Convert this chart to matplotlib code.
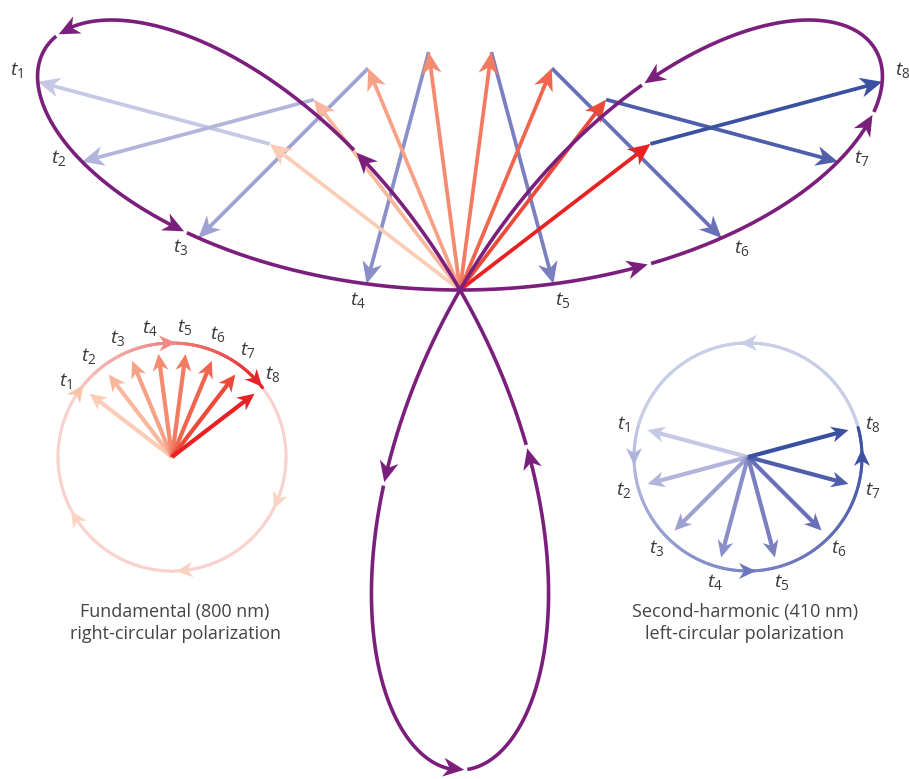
import numpy as np
import matplotlib.pyplot as plt
from matplotlib.patches import Polygon
from matplotlib.collections import LineCollection
from matplotlib.colors import to_rgb

plt.rcParams['mathtext.fontset'] = 'custom'
plt.rcParams['mathtext.it'] = 'Open Sans:italic'
plt.rcParams['mathtext.rm'] = 'Open Sans'

#%% data
time_labels = ['1', '2', '3', '4', '5', '6', '7', '8']
# field directions (deg) at t1..t8
fund_angle = [142.5, 127.5, 112.5, 97.5, 82.5, 67.5, 52.5, 37.5]
sh_angle = [165, 195, 225, 255, 285, 315, 345, 15]
fund_colors = ['#fbcdb6', '#f9b89e', '#f6a287', '#f48b71', '#f27a60',
               '#f0654d', '#ec4a38', '#e82123']
sh_colors = ['#c6c9e6', '#b1b5dc', '#9ea2d2', '#8b8fc9', '#7a7fc0',
             '#6870b7', '#4e5eab', '#3a50a0']
# phase (deg) of the direction arrows along the total-field path
path_arrow_phase = [15.5, 46, 96.5, 137, 181, 226, 254, 295, 336]
fund_circle_arrows = [145, 92, 42, -23, -84, -148]
fund_circle_colors = ['#f9c3aa', '#f08a88', '#e8232a', '#fbd3c2', '#fbd3c2', '#fbd3c2']
sh_circle_arrows = [90, 180, 270, 0]
sh_circle_colors = ['#c8cde8', '#adb4dc', '#6b76bc', '#3c51a2']
captions = ['Fundamental (800 nm)\nright-circular polarization',
            'Second-harmonic (410 nm)\nleft-circular polarization']

#%% layout (pixel units, y up)
W, H = 909, 779
C = np.array([460., 489.])
A = 240.
LC = np.array([172., 322.])
RC = np.array([748., 322.])
R_in = 114.
label_off = [(-21, 12), (-23, 4), (-18, -9), (-9, -16), (9, -16), (20, -10), (24, 4), (20, 12)]
purple = '#7b1f7c'
txt = '#3a3a3a'


def unit(deg):
    r = np.deg2rad(deg)
    return np.array([np.cos(r), np.sin(r)])


def head(ax, tip, d, L, Wd, color, z):
    d = np.asarray(d, float)
    d = d / np.linalg.norm(d)
    n = np.array([-d[1], d[0]])
    base = tip - L * d
    pts = [tip, base + Wd * n, tip - 0.7 * L * d, base - Wd * n]
    ax.add_patch(Polygon(pts, closed=True, fc=color, ec='none', zorder=z))


def arrow(ax, start, end, color, lw, L, Wd, z):
    start = np.asarray(start, float)
    end = np.asarray(end, float)
    u = (end - start) / np.linalg.norm(end - start)
    se = end - 0.6 * L * u
    ax.plot([start[0], se[0]], [start[1], se[1]], color=color, lw=lw,
            solid_capstyle='butt', zorder=z)
    head(ax, end, u, L, Wd, color, z + 0.1)


def field(s):
    s = np.atleast_1d(s)
    f = np.stack([np.cos(np.deg2rad(90 - s)), np.sin(np.deg2rad(90 - s))], axis=1)
    h = np.stack([np.cos(np.deg2rad(270 + 2 * s)), np.sin(np.deg2rad(270 + 2 * s))], axis=1)
    return C + A * (f + h)


def grad_arc(ax, center, r, a0, a1, colors, lw, z):
    # arc from a0 to a1 (deg) with colour interpolated along the list
    ang = np.linspace(a0, a1, 200)
    pts = center + r * np.stack([np.cos(np.deg2rad(ang)), np.sin(np.deg2rad(ang))], axis=1)
    segs = np.stack([pts[:-1], pts[1:]], axis=1)
    cols = np.array([to_rgb(c) for c in colors])
    x = np.linspace(0, 1, len(colors))
    tt = np.linspace(0, 1, len(segs))
    rgb = np.stack([np.interp(tt, x, cols[:, i]) for i in range(3)], axis=1)
    ax.add_collection(LineCollection(segs, colors=rgb, linewidths=lw,
                                     capstyle='round', zorder=z))


fig = plt.figure(figsize=(W / 100, H / 100), dpi=100)
ax = fig.add_axes([0, 0, 1, 1])
ax.set_xlim(0, W)
ax.set_ylim(0, H)
ax.set_aspect('equal')
ax.axis('off')

#%% main diagram: fundamental + second harmonic = trefoil
for k in range(8):
    ftip = C + A * unit(fund_angle[k])
    p = field(90 - fund_angle[k])[0]
    arrow(ax, ftip, p, sh_colors[k], 2.7, 22, 10, 1.5)
    arrow(ax, C, ftip, fund_colors[k], 2.7, 22, 10, 2)
    ax.text(p[0] + label_off[k][0], p[1] + label_off[k][1], r'$t_{%s}$' % time_labels[k],
            fontsize=14, color=txt, ha='center', va='center')

sg = np.arange(0, 360.001, 0.05)
pts = field(sg)
cum = np.concatenate([[0], np.cumsum(np.linalg.norm(np.diff(pts, axis=0), axis=1))])
L_head, gap = 21, 3
start_len = 0.
for s_a in sorted(path_arrow_phase):
    i = np.searchsorted(sg, s_a)
    la = cum[i]
    m = (cum >= start_len) & (cum <= la - 0.5 * L_head)
    ax.plot(pts[m, 0], pts[m, 1], color=purple, lw=2.6, solid_capstyle='butt', zorder=4)
    j = np.searchsorted(cum, la - L_head)
    head(ax, pts[i], pts[i] - pts[j], L_head, 9.5, purple, 4.1)
    start_len = la + gap
m = cum >= start_len
ax.plot(pts[m, 0], pts[m, 1], color=purple, lw=2.6, solid_capstyle='butt', zorder=4)

#%% inset: fundamental, right-circular
grad_arc(ax, LC, R_in, fund_angle[-1], fund_angle[0] - 360, ['#f9d2d0', '#f9d2d0'], 2.2, 1)
grad_arc(ax, LC, R_in, fund_angle[0], fund_angle[-1], ['#f7c6c2', '#f29c98', '#ee6662', '#e8232a'], 2.2, 1)
for a, c in zip(fund_circle_arrows, fund_circle_colors):
    pos = LC + R_in * unit(a)
    d = unit(a - 90)
    head(ax, pos + 8 * d, d, 17, 8, c, 1.2)
for k in range(8):
    arrow(ax, LC, LC + 104 * unit(fund_angle[k]), fund_colors[k], 3.0, 17, 8, 2)
    lp = LC + 131 * unit(fund_angle[k] + 2)
    ax.text(lp[0], lp[1], r'$t_{%s}$' % time_labels[k], fontsize=14, color=txt,
            ha='center', va='center')

#%% inset: second harmonic, left-circular
grad_arc(ax, RC, R_in, sh_angle[-1], sh_angle[0], ['#c8cde8', '#c8cde8'], 2.2, 1)
grad_arc(ax, RC, R_in, sh_angle[0], sh_angle[-1] + 360, ['#c2c7e5', '#8f96cb', '#6a74ba', '#3a50a0'], 2.2, 1)
for a, c in zip(sh_circle_arrows, sh_circle_colors):
    pos = RC + R_in * unit(a)
    d = unit(a + 90)
    head(ax, pos + 8 * d, d, 17, 8, c, 1.2)
for k in range(8):
    arrow(ax, RC, RC + 104 * unit(sh_angle[k]), sh_colors[k], 3.0, 17, 8, 2)
    lp = RC + 129 * unit(sh_angle[k])
    ax.text(lp[0], lp[1], r'$t_{%s}$' % time_labels[k], fontsize=14, color=txt,
            ha='center', va='center')

ax.text(175, 156, captions[0], fontsize=13, color='#444444', ha='center', va='center',
        family='Open Sans', linespacing=1.3)
ax.text(745, 156, captions[1], fontsize=13, color='#444444', ha='center', va='center',
        family='Open Sans', linespacing=1.3)

fig.savefig('out.png', dpi=100)
